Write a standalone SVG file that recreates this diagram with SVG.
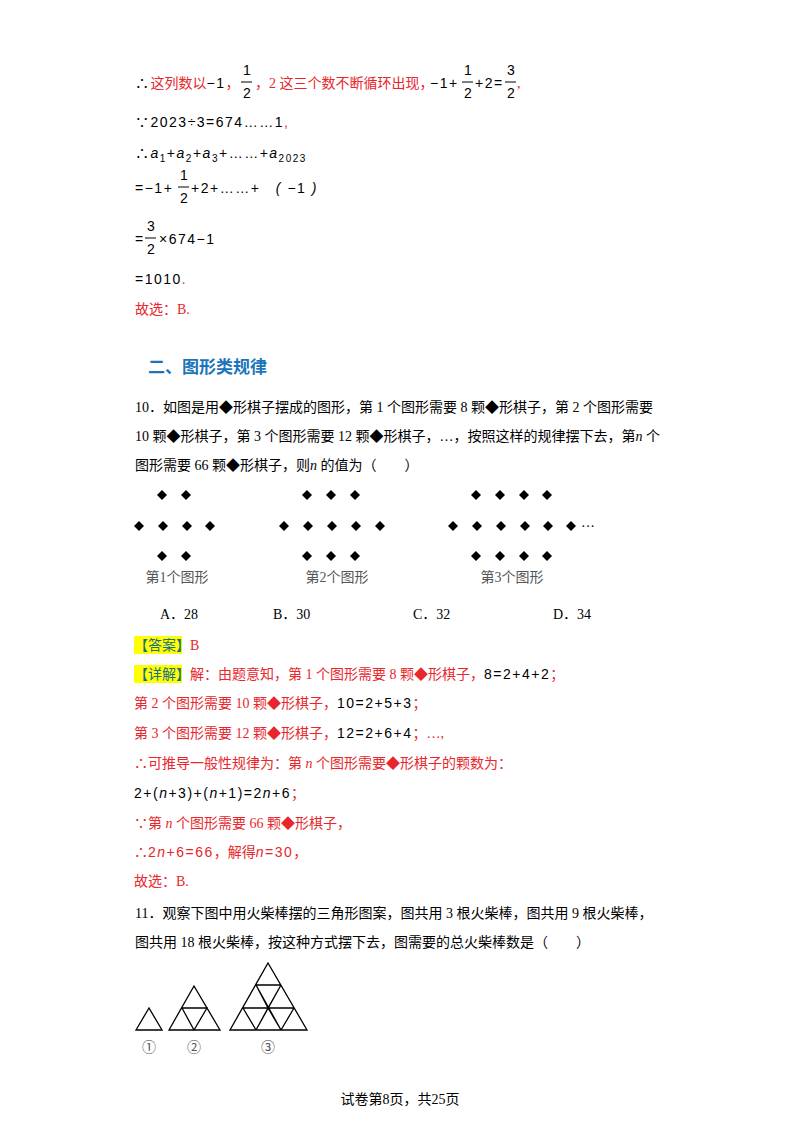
<svg xmlns="http://www.w3.org/2000/svg" width="800" height="1132" viewBox="0 0 800 1132">
<style>
text{font-family:"Liberation Serif","Noto Sans CJK SC",serif;font-size:14px;fill:#000}
.r{fill:#e8262b}
.m{font-family:"Liberation Sans","Noto Sans CJK SC",sans-serif;letter-spacing:1.5px}
.i{font-style:italic}
.s{font-size:10px}
.h{font-family:"Noto Sans CJK SC",sans-serif;font-size:17px;font-weight:bold;fill:#1b75bb}
.g{fill:#555}
.t{fill:none;stroke:#000;stroke-width:1.3}
.hl{fill:#ffff00}
.k{fill:#1a6e8a}
</style>
<defs><path id="d" d="M0,-5L5,0L0,5L-5,0Z"/></defs>
<rect width="800" height="1132" fill="#fff"/>
<text x="135" y="88"><tspan class="m">∴</tspan><tspan class="r">这列数以</tspan><tspan class="m" fill="#000">−1</tspan><tspan class="r">，</tspan></text>
<text x="243" y="75" class="m">1</text><line x1="241" y1="82" x2="252" y2="82" stroke="#000"/><text x="243" y="98" class="m">2</text>
<text x="255" y="88" class="r">，2 这三个数不断循环出现，</text>
<text x="430" y="88" class="m">−1+</text><text x="464" y="75" class="m">1</text><line x1="462" y1="82" x2="473" y2="82" stroke="#000"/><text x="464" y="98" class="m">2</text>
<text x="475" y="88" class="m">+2=</text><text x="507" y="75" class="m">3</text><line x1="505" y1="82" x2="516" y2="82" stroke="#000"/><text x="507" y="98" class="m">2</text><text x="517" y="88" class="r">,</text>
<text x="135" y="127" class="m">∵2023÷3=674……1<tspan class="r">,</tspan></text>
<text x="135" y="158" class="m">∴<tspan class="i">a</tspan><tspan class="s" dy="4">1</tspan><tspan dy="-4">+</tspan><tspan class="i">a</tspan><tspan class="s" dy="4">2</tspan><tspan dy="-4">+</tspan><tspan class="i">a</tspan><tspan class="s" dy="4">3</tspan><tspan dy="-4">+……+</tspan><tspan class="i">a</tspan><tspan class="s" dy="4">2023</tspan></text>
<text x="135" y="193" class="m">=−1+</text><text x="180" y="180" class="m">1</text><line x1="178" y1="187" x2="189" y2="187" stroke="#000"/><text x="180" y="203" class="m">2</text>
<text x="191" y="193" class="m">+2+……+　<tspan class="i">(</tspan> −1 <tspan class="i">)</tspan></text>
<text x="135" y="244" class="m">=</text><text x="147" y="231" class="m">3</text><line x1="145" y1="238" x2="156" y2="238" stroke="#000"/><text x="147" y="254" class="m">2</text><text x="159" y="244" class="m">×674−1</text>
<text x="135" y="284" class="m">=1010<tspan class="r">.</tspan></text>
<text x="135" y="314" class="r">故选：B.</text>
<text x="148" y="373" class="h">二、图形类规律</text>
<text x="135" y="412">10．如图是用◆形棋子摆成的图形，第 1 个图形需要 8 颗◆形棋子，第 2 个图形需要</text>
<text x="135" y="441">10 颗◆形棋子，第 3 个图形需要 12 颗◆形棋子，…，按照这样的规律摆下去，第<tspan class="i">n</tspan> 个</text>
<text x="135" y="470">图形需要 66 颗◆形棋子，则<tspan class="i">n</tspan> 的值为（　　）</text>
<g id="fig1">
<use href="#d" x="162" y="495"/><use href="#d" x="186" y="495"/>
<use href="#d" x="139" y="526"/><use href="#d" x="163" y="526"/><use href="#d" x="187" y="526"/><use href="#d" x="210" y="526"/>
<use href="#d" x="162" y="556"/><use href="#d" x="186" y="556"/>
<text x="177" y="582" class="g" text-anchor="middle">第1个图形</text></g>
<g id="fig2">
<use href="#d" x="307" y="495"/><use href="#d" x="331" y="495"/><use href="#d" x="355" y="495"/>
<use href="#d" x="284" y="526"/><use href="#d" x="308" y="526"/><use href="#d" x="332" y="526"/><use href="#d" x="356" y="526"/><use href="#d" x="380" y="526"/>
<use href="#d" x="307" y="556"/><use href="#d" x="331" y="556"/><use href="#d" x="355" y="556"/>
<text x="337" y="582" class="g" text-anchor="middle">第2个图形</text></g>
<g id="fig3">
<use href="#d" x="476" y="495"/><use href="#d" x="500" y="495"/><use href="#d" x="524" y="495"/><use href="#d" x="547" y="495"/>
<use href="#d" x="453" y="526"/><use href="#d" x="477" y="526"/><use href="#d" x="501" y="526"/><use href="#d" x="525" y="526"/><use href="#d" x="548" y="526"/><use href="#d" x="571" y="526"/>
<text x="581" y="531">···</text>
<use href="#d" x="476" y="556"/><use href="#d" x="500" y="556"/><use href="#d" x="524" y="556"/><use href="#d" x="547" y="556"/>
<text x="512" y="582" class="g" text-anchor="middle">第3个图形</text></g>
<text x="160" y="619">A．28</text><text x="273" y="619">B．30</text><text x="413" y="619">C．32</text><text x="553" y="619">D．34</text>
<rect x="134" y="636" width="48" height="18" class="hl"/>
<text x="134" y="650"><tspan class="k">【答案】</tspan><tspan class="r">B</tspan></text>
<rect x="134" y="665" width="48" height="18" class="hl"/>
<text x="134" y="679"><tspan class="k">【详解】</tspan><tspan class="r">解：由题意知，第 1 个图形需要 8 颗◆形棋子，</tspan><tspan class="m">8=2+4+2</tspan><tspan class="r">；</tspan></text>
<text x="134" y="708" class="r">第 2 个图形需要 10 颗◆形棋子，<tspan class="m" fill="#000">10=2+5+3</tspan>；</text>
<text x="134" y="738" class="r">第 3 个图形需要 12 颗◆形棋子，<tspan class="m" fill="#000">12=2+6+4</tspan>；…,</text>
<text x="134" y="768" class="r">∴可推导一般性规律为：第 <tspan class="i">n</tspan> 个图形需要◆形棋子的颗数为：</text>
<text x="134" y="798" class="m">2+(<tspan class="i">n</tspan>+3)+(<tspan class="i">n</tspan>+1)=2<tspan class="i">n</tspan>+6<tspan class="r">；</tspan></text>
<text x="134" y="828" class="r">∵第 <tspan class="i">n</tspan> 个图形需要 66 颗◆形棋子，</text>
<text x="134" y="857" class="r">∴<tspan class="m">2<tspan class="i">n</tspan>+6=66</tspan>，解得<tspan class="m"><tspan class="i">n</tspan>=30</tspan>，</text>
<text x="134" y="886" class="r">故选：B.</text>
<text x="135" y="918">11．观察下图中用火柴棒摆的三角形图案，图共用 3 根火柴棒，图共用 9 根火柴棒，</text>
<text x="135" y="947">图共用 18 根火柴棒，按这种方式摆下去，图需要的总火柴棒数是（　　）</text>
<g id="tri1"><path class="t" d="M136,1030L162,1030L149,1008Z"/><text x="149" y="1052" text-anchor="middle" class="g">①</text></g>
<g id="tri2"><path class="t" d="M169,1030L220,1030L194,986Z M182,1008L207,1008L194,1030Z"/><text x="194" y="1052" text-anchor="middle" class="g">②</text></g>
<g id="tri3"><path class="t" d="M230,1030L307,1030L268,963Z M256,985L281,985 M243,1008L294,1008 M256,985L281,1030 M281,985L256,1030 M243,1008L256,1030 M294,1008L281,1030 M268,1008L256,1030 M268,1008L281,1030 M256,985L268,1008L281,985"/><text x="268" y="1052" text-anchor="middle" class="g">③</text></g>
<text x="400" y="1104" text-anchor="middle">试卷第8页，共25页</text>
</svg>
